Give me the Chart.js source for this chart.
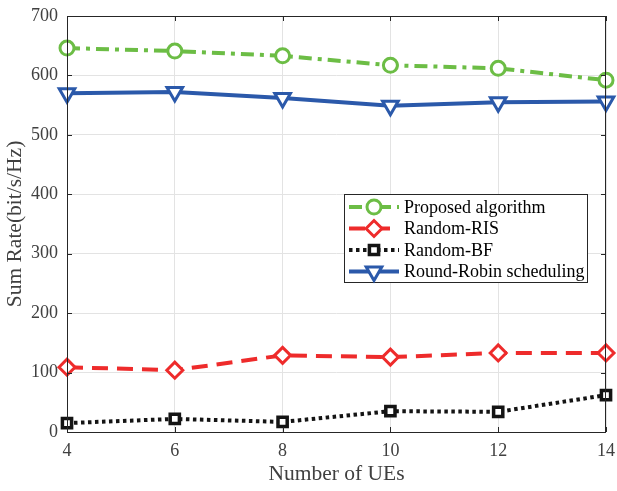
<!DOCTYPE html>
<html><head><meta charset="utf-8">
<script src="https://cdn.jsdelivr.net/npm/chart.js@4"></script>
<style>html,body{margin:0;padding:0;background:#fff}#c{display:block}</style>
</head><body>
<div style="width:617px;height:491px"><canvas id="c" width="617" height="491"></canvas></div>
<script>
const ues = [4, 6, 8, 10, 12, 14];
const proposed = [646, 641, 633, 617, 612, 592];
const randomRIS = [109, 104, 129, 126, 133, 133];
const randomBF = [15, 22, 17, 35, 34, 62];
const roundRobin = [570, 572, 562, 549, 555, 556];
const yTicks = [0, 100, 200, 300, 400, 500, 600, 700];
const xTicks = [4, 6, 8, 10, 12, 14];
const names = ['Proposed algorithm', 'Random-RIS', 'Random-BF', 'Round-Robin scheduling'];

const FONT = '"Liberation Serif", "Times New Roman", serif';
const pts = a => a.map((v, i) => ({x: ues[i], y: v}));
const zeroPad = () => ({left: 0, top: 0, right: 0, bottom: 0});

const legendPlugin = {
  id: 'boxlegend',
  afterDraw(chart) {
    const ctx = chart.ctx;
    const a = chart.chartArea;
    ctx.save();
    ctx.strokeStyle = '#262626';
    ctx.lineWidth = 1;
    ctx.strokeRect(a.left + 0.5, a.top + 0.5, a.right - a.left - 1, a.bottom - a.top);
    const xs = chart.scales.x, ys = chart.scales.y;
    ctx.beginPath();
    xTicks.forEach(t => {
      const px = Math.round(xs.getPixelForValue(t)) + 0.5;
      ctx.moveTo(px, a.bottom); ctx.lineTo(px, a.bottom - 5);
      ctx.moveTo(px, a.top); ctx.lineTo(px, a.top + 5);
    });
    yTicks.forEach(t => {
      const py = Math.round(ys.getPixelForValue(t)) + 0.5;
      ctx.moveTo(a.left, py); ctx.lineTo(a.left + 5, py);
      ctx.moveTo(a.right, py); ctx.lineTo(a.right - 5, py);
    });
    ctx.stroke();
    // legend
    const bx = 344, by = 194, bw = 243, bh = 88;
    ctx.fillStyle = '#fff';
    ctx.fillRect(bx, by, bw, bh);
    ctx.strokeStyle = '#262626';
    ctx.lineWidth = 1;
    ctx.strokeRect(bx + 0.5, by + 0.5, bw, bh);
    ctx.font = '18px ' + FONT;
    ctx.textBaseline = 'middle';
    chart.data.datasets.forEach((ds, i) => {
      const y = by + 13 + i * 21.5;
      ctx.strokeStyle = ds.borderColor;
      ctx.lineWidth = ds.borderWidth;
      ctx.setLineDash(ds.borderDash || []);
      ctx.beginPath(); ctx.moveTo(349, y); ctx.lineTo(399, y); ctx.stroke();
      ctx.setLineDash([]);
      ctx.fillStyle = '#fff';
      ctx.strokeStyle = ds.borderColor;
      ctx.lineWidth = ds.pointBorderWidth;
      Chart.helpers.drawPoint(ctx, {
        pointStyle: ds.pointStyle, radius: ds.pointRadius, rotation: ds.pointRotation || 0,
        borderWidth: ds.pointBorderWidth
      }, 374, y);
      ctx.fillStyle = '#000';
      ctx.fillText(ds.label, 404, y + 1);
    });
    ctx.restore();
  }
};

new Chart(document.getElementById('c'), {
  type: 'line',
  data: {
    datasets: [
      {label: names[0], data: pts(proposed), borderColor: '#6cbd45', backgroundColor: '#6cbd45', borderWidth: 4,
       borderDash: [13, 6, 4, 6], pointStyle: 'circle', pointRadius: 7, pointBorderWidth: 3,
       pointBackgroundColor: '#fff', pointBorderColor: '#6cbd45', clip: false},
      {label: names[1], data: pts(randomRIS), borderColor: '#ee2b2b', backgroundColor: '#ee2b2b', borderWidth: 4,
       borderDash: [16, 9], pointStyle: 'rectRot', pointRadius: 8, pointBorderWidth: 3,
       pointBackgroundColor: '#fff', pointBorderColor: '#ee2b2b', clip: false},
      {label: names[2], data: pts(randomBF), borderColor: '#141414', backgroundColor: '#141414', borderWidth: 4,
       borderDash: [3.5, 3.5], pointStyle: 'rect', pointRadius: 6.5, pointBorderWidth: 3.5,
       pointBackgroundColor: '#fff', pointBorderColor: '#141414', clip: false},
      {label: names[3], data: pts(roundRobin), borderColor: '#2b59aa', backgroundColor: '#2b59aa', borderWidth: 4,
       pointStyle: 'triangle', pointRotation: 180, pointRadius: 9, pointBorderWidth: 3,
       pointBackgroundColor: '#fff', pointBorderColor: '#2b59aa', clip: false}
    ]
  },
  options: {
    responsive: false, animation: false,
    layout: {autoPadding: false, padding: {top: 16, right: 11, left: 0, bottom: 0}},
    plugins: {legend: {display: false}, tooltip: {enabled: false}},
    elements: {line: {tension: 0}},
    scales: {
      x: {
        type: 'linear', min: 4, max: 14,
        afterBuildTicks: s => { s.ticks = xTicks.map(v => ({value: v})); },
        afterFit: s => { s.height = 59; s.paddingLeft = 0; s.paddingRight = 0; s.getPadding = zeroPad; },
        grid: {color: '#e3e3e3', drawTicks: false},
        border: {display: false},
        ticks: {color: '#404040', font: {family: FONT, size: 18}, padding: 8},
        title: {display: true, text: 'Number of UEs', color: '#404040', font: {family: FONT, size: 21.5}, padding: {top: 3}}
      },
      y: {
        min: 0, max: 700,
        afterBuildTicks: s => { s.ticks = yTicks.map(v => ({value: v})); },
        afterFit: s => { s.width = 67; s.paddingTop = 0; s.paddingBottom = 0; s.getPadding = zeroPad; },
        grid: {color: '#e3e3e3', drawTicks: false},
        border: {display: false},
        ticks: {color: '#404040', font: {family: FONT, size: 18}, padding: 9},
        title: {display: true, text: 'Sum Rate(bit/s/Hz)', color: '#404040', font: {family: FONT, size: 21.5}, padding: {top: 2, bottom: 0}}
      }
    }
  },
  plugins: [legendPlugin]
});
</script>
</body></html>
